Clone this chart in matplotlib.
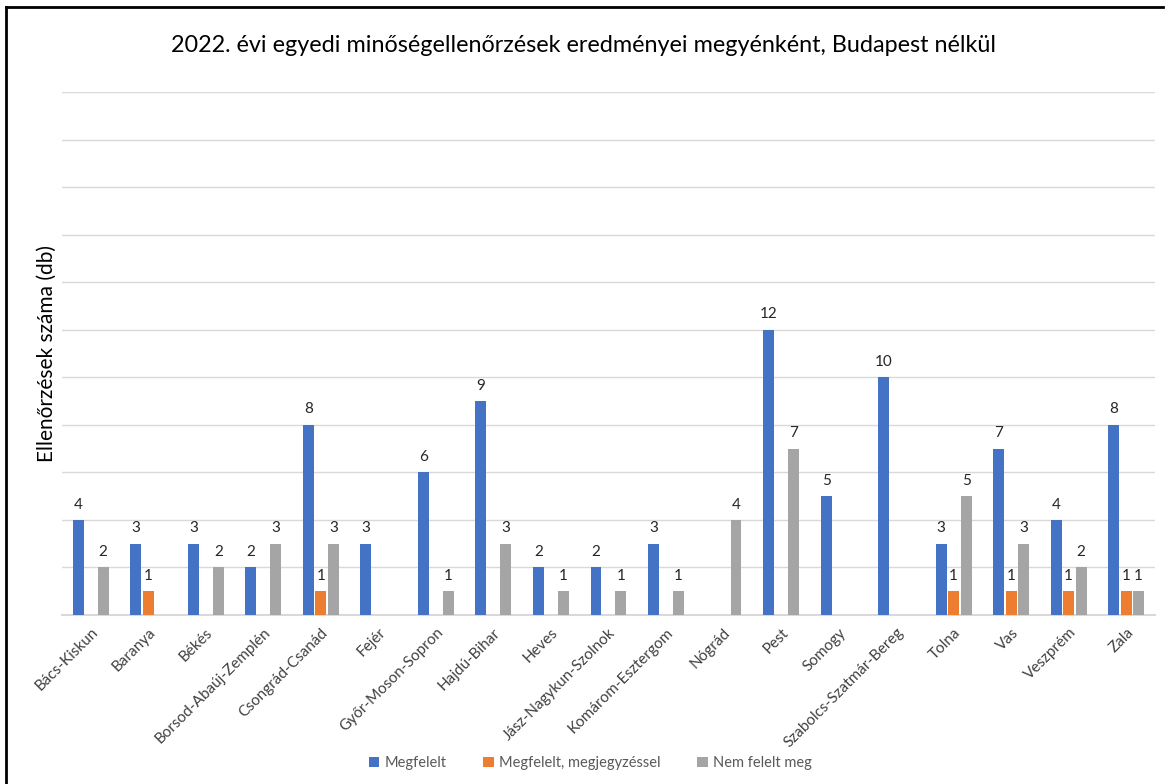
import matplotlib.pyplot as plt
import numpy as np

megyek = ["Bács-Kiskun", "Baranya", "Békés", "Borsod-Abaúj-Zemplén", "Csongrád-Csanád",
          "Fejér", "Győr-Moson-Sopron", "Hajdú-Bihar", "Heves", "Jász-Nagykun-Szolnok",
          "Komárom-Esztergom", "Nógrád", "Pest", "Somogy", "Szabolcs-Szatmár-Bereg",
          "Tolna", "Vas", "Veszprém", "Zala"]
megfelelt = [4, 3, 3, 2, 8, 3, 6, 9, 2, 2, 3, 0, 12, 5, 10, 3, 7, 4, 8]
megjegyzessel = [0, 1, 0, 0, 1, 0, 0, 0, 0, 0, 0, 0, 0, 0, 0, 1, 1, 1, 1]
nem_felelt = [2, 0, 2, 3, 3, 0, 1, 3, 1, 1, 1, 4, 7, 0, 0, 5, 3, 2, 1]

sorozatok = [("Megfelelt", megfelelt, "#4472C4"),
             ("Megfelelt, megjegyzéssel", megjegyzessel, "#ED7D31"),
             ("Nem felelt meg", nem_felelt, "#A5A5A5")]

plt.rcParams['font.family'] = ['Lato', 'DejaVu Sans']

fig = plt.figure(figsize=(11.67, 7.84), dpi=100)
ax = fig.add_axes([0.0531, 0.2156, 0.9366, 0.6671])

x = np.arange(len(megyek))
szel = 0.19
lepes = 0.217
for i, (nev, ertekek, szin) in enumerate(sorozatok):
    pos = x + (i - 1) * lepes
    ax.bar(pos, ertekek, width=szel, color=szin, label=nev, zorder=3)
    for p, v in zip(pos, ertekek):
        if v > 0:
            ax.annotate(str(v), (p, v), xytext=(0, 6), textcoords="offset points",
                        ha="center", va="bottom", fontsize=11, color="#262626")

ax.set_xlim(-0.5, len(megyek) - 0.5)
ax.set_ylim(0, 22)
ax.set_yticks(range(0, 23, 2))
ax.tick_params(axis='y', left=False, labelleft=False)
ax.tick_params(axis='x', bottom=False, pad=4)
ax.set_xticks(x)
ax.set_xticklabels(megyek, rotation=45, ha="right", rotation_mode="anchor",
                   fontsize=11, color="#404040")
ax.grid(axis='y', color="#D9D9D9", linewidth=1, zorder=0)
for s in ["top", "right", "left"]:
    ax.spines[s].set_visible(False)
ax.spines["bottom"].set_color("#D9D9D9")
ax.spines["bottom"].set_linewidth(1.5)

ax.set_ylabel("Ellenőrzések száma (db)", fontsize=15, color="#000000", labelpad=4)

fig.suptitle("2022. évi egyedi minőségellenőrzések eredményei megyénként, Budapest nélkül",
             y=0.955, fontsize=16.8, color="#000000")

fig.legend(loc="center", bbox_to_anchor=(0.506, 0.027), ncol=3, frameon=False,
           fontsize=10.5, labelcolor="#595959", handlelength=0.7, handleheight=0.7,
           handletextpad=0.4, columnspacing=2.5)

# keret a kép bal és felső szélén
fig.add_artist(plt.Line2D([0.005, 0.005], [0, 0.991], color="black", linewidth=2))
fig.add_artist(plt.Line2D([0.005, 0.997], [0.991, 0.991], color="black", linewidth=2))

plt.savefig("out.png")
plt.close()
